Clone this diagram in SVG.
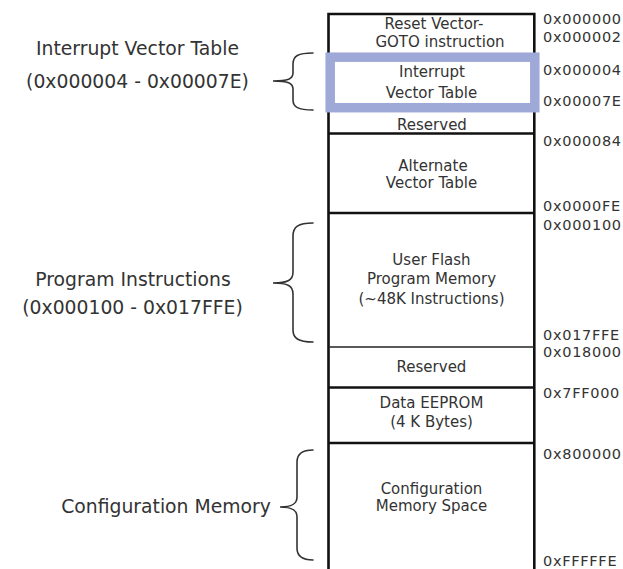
<svg xmlns="http://www.w3.org/2000/svg" width="623" height="569" viewBox="0 0 623 569">
  <style>
    .lbl { font-family: "DejaVu Sans", Verdana, sans-serif; fill: #333; }
    .cell { font-size: 15px; text-anchor: middle; }
    .addr { font-size: 14.5px; letter-spacing: 0.7px; }
    .side { font-size: 18.8px; text-anchor: middle; }
    .wall { stroke: #111; stroke-width: 2.6; fill: none; }
    .div { stroke: #111; stroke-width: 2.6; }
    .div-thin { stroke: #222; stroke-width: 1.4; }
    .brace { stroke: #333; stroke-width: 1.6; fill: none; stroke-linecap: round; }
  </style>
  <rect width="623" height="569" fill="#ffffff"/>

  <!-- memory column frame -->
  <g id="memory-frame">
    <path class="wall" d="M328.5,571 L328.5,14 L534.3,14 L534.3,571"/>
  </g>

  <!-- region dividers -->
  <g id="dividers">
    <line class="div" x1="328.5" y1="57" x2="534.3" y2="57"/>
    <line class="div" x1="328.5" y1="133.5" x2="534.3" y2="133.5"/>
    <line class="div" x1="328.5" y1="213" x2="534.3" y2="213"/>
    <line class="div-thin" x1="328.5" y1="347" x2="534.3" y2="347"/>
    <line class="div" x1="328.5" y1="387.5" x2="534.3" y2="387.5"/>
    <line class="div" x1="328.5" y1="443" x2="534.3" y2="443"/>
  </g>

  <g id="reset-vector">
    <text class="lbl cell" x="434" y="29">Reset Vector-</text>
    <text class="lbl cell" x="440" y="47">GOTO instruction</text>
  </g>

  <g id="interrupt-vector-table">
    <rect x="330.2" y="57.2" width="204.6" height="50.5" fill="#ffffff" stroke="#9FA9D7" stroke-width="9.5"/>
    <text class="lbl cell" x="432" y="77">Interrupt</text>
    <text class="lbl cell" x="431.5" y="98">Vector Table</text>
  </g>

  <g id="reserved-1">
    <text class="lbl cell" x="432" y="130">Reserved</text>
  </g>

  <g id="alternate-vector-table">
    <text class="lbl cell" x="433" y="171">Alternate</text>
    <text class="lbl cell" x="431.5" y="188">Vector Table</text>
  </g>

  <g id="user-flash">
    <text class="lbl cell" x="431.5" y="265">User Flash</text>
    <text class="lbl cell" x="431.5" y="284">Program Memory</text>
    <text class="lbl cell" x="431.5" y="304">(~48K Instructions)</text>
  </g>

  <g id="reserved-2">
    <text class="lbl cell" x="431.5" y="372">Reserved</text>
  </g>

  <g id="data-eeprom">
    <text class="lbl cell" x="431.5" y="408">Data EEPROM</text>
    <text class="lbl cell" x="431.5" y="427">(4 K Bytes)</text>
  </g>

  <g id="configuration-space">
    <text class="lbl cell" x="431.5" y="494">Configuration</text>
    <text class="lbl cell" x="431.5" y="511">Memory Space</text>
  </g>

  <!-- address column -->
  <g id="addresses" class="lbl addr">
    <text x="543" y="24">0x000000</text>
    <text x="543" y="42">0x000002</text>
    <text x="543" y="75">0x000004</text>
    <text x="543" y="106">0x00007E</text>
    <text x="543" y="146">0x000084</text>
    <text x="543" y="211">0x0000FE</text>
    <text x="543" y="230">0x000100</text>
    <text x="543" y="339.5">0x017FFE</text>
    <text x="543" y="357">0x018000</text>
    <text x="543" y="398">0x7FF000</text>
    <text x="543" y="459">0x800000</text>
    <text x="543" y="566">0xFFFFFE</text>
  </g>

  <!-- braces -->
  <g id="connectors">
    <path class="brace" d="M313,53 C298,53 293,56 293,64 L293,73 C293,79 288,81 273,81 C288,81 293,83 293,89 L293,100 C293,107 298,110 313,110"/>
    <path class="brace" d="M313,223 C298,223 293,227 293,236 L293,272 C293,280 288,283 273,283 C288,283 293,286 293,294 L293,330 C293,338 298,342 313,342"/>
    <path class="brace" d="M313,450 C302,450 297,454 297,462 L297,497 C297,504 292,507 280,507 C292,507 297,510 297,517 L297,548 C297,556 302,560 313,560"/>
  </g>

  <g id="label-ivt">
    <text class="lbl side" x="137.5" y="55">Interrupt Vector Table</text>
    <text class="lbl side" x="137.5" y="88">(0x000004 - 0x00007E)</text>
  </g>

  <g id="label-program">
    <text class="lbl side" x="133" y="286">Program Instructions</text>
    <text class="lbl side" x="132.5" y="314">(0x000100 - 0x017FFE)</text>
  </g>

  <g id="label-config">
    <text class="lbl side" x="166" y="513">Configuration Memory</text>
  </g>
</svg>
